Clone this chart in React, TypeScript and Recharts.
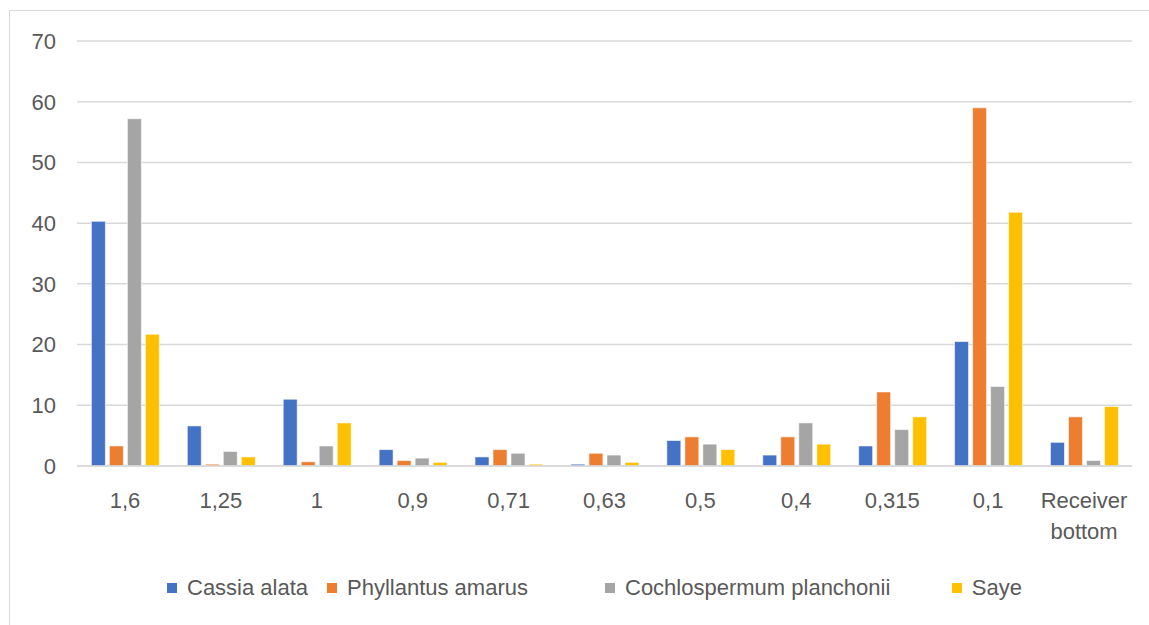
import { BarChart, Bar, XAxis, YAxis, CartesianGrid, Legend } from "recharts";

const categories = ["1,6", "1,25", "1", "0,9", "0,71", "0,63", "0,5", "0,4", "0,315", "0,1", "Receiver bottom"];
const cassiaAlata = [40.3, 6.6, 11.0, 2.7, 1.5, 0.3, 4.2, 1.8, 3.3, 20.5, 3.9];
const phyllantusAmarus = [3.3, 0.3, 0.7, 0.9, 2.7, 2.1, 4.8, 4.8, 12.2, 59.0, 8.1];
const cochlospermum = [57.2, 2.4, 3.3, 1.3, 2.1, 1.8, 3.6, 7.1, 6.0, 13.1, 0.9];
const saye = [21.7, 1.5, 7.1, 0.6, 0.3, 0.6, 2.7, 3.6, 8.1, 41.8, 9.8];
const yTicks = [0, 10, 20, 30, 40, 50, 60, 70];

const series = [
  { key: "cassia", name: "Cassia alata", color: "#4472C4", w: 160 },
  { key: "phyllantus", name: "Phyllantus amarus", color: "#ED7D31", w: 278 },
  { key: "cochlo", name: "Cochlospermum planchonii", color: "#A5A5A5", w: 347 },
  { key: "saye", name: "Saye", color: "#FFC000", w: 70 },
];

const data = categories.map((c, i) => ({
  name: c,
  cassia: cassiaAlata[i],
  phyllantus: phyllantusAmarus[i],
  cochlo: cochlospermum[i],
  saye: saye[i],
}));

const FONT = "'Liberation Sans', Arial, sans-serif";
const TEXT = "#595959";

function XTick({ x, y, payload }: any) {
  const words: string[] = payload.value.includes(" ") ? payload.value.split(" ") : [payload.value];
  return (
    <text x={x} y={y} textAnchor="middle" fill={TEXT} fontSize={22} fontFamily={FONT}>
      {words.map((w, i) => (
        <tspan key={i} x={x} dy={i === 0 ? "0.71em" : 31}>
          {w}
        </tspan>
      ))}
    </text>
  );
}

function LegendContent() {
  return (
    <div style={{ display: "flex", alignItems: "center", height: 30, paddingLeft: 167, fontFamily: FONT, fontSize: 22, color: TEXT }}>
      {series.map((s) => (
        <div key={s.key} style={{ display: "flex", alignItems: "center", width: s.w, whiteSpace: "nowrap" }}>
          <span style={{ width: 10, height: 10, background: s.color, display: "inline-block", marginRight: 10 }} />
          <span>{s.name}</span>
        </div>
      ))}
    </div>
  );
}

export default function App() {
  return (
    <div style={{ position: "absolute", left: 0, top: 0, width: 1149, height: 625, overflow: "hidden", background: "#fff" }}>
      <div style={{ position: "absolute", left: 9, top: 10, width: 1200, height: 700, border: "1px solid #d9d9d9" }} />
      <div style={{ position: "absolute", left: 0, top: 0 }}>
        <BarChart
          width={1149}
          height={625}
          data={data}
          margin={{ top: 41, right: 17, left: 0, bottom: 22 }}
          barGap={4}
          barCategoryGap="15%"
        >
          <CartesianGrid vertical={false} stroke="#d9d9d9" strokeWidth={1.5} />
          <XAxis
            dataKey="name"
            height={107}
            interval={0}
            axisLine={{ stroke: "#d9d9d9", strokeWidth: 1.5 }}
            tickLine={false}
            tickSize={0}
            tickMargin={26}
            tick={<XTick />}
          />
          <YAxis
            width={77}
            domain={[0, 70]}
            ticks={yTicks}
            axisLine={false}
            tickLine={false}
            tickSize={0}
            tickMargin={21}
            tick={{ fill: TEXT, fontSize: 22, fontFamily: FONT }}
          />
          <Legend verticalAlign="bottom" content={<LegendContent />} />
          {series.map((s) => (
            <Bar key={s.key} dataKey={s.key} name={s.name} fill={s.color} stroke="#ffffff" strokeWidth={0.6} isAnimationActive={false} />
          ))}
        </BarChart>
      </div>
    </div>
  );
}
